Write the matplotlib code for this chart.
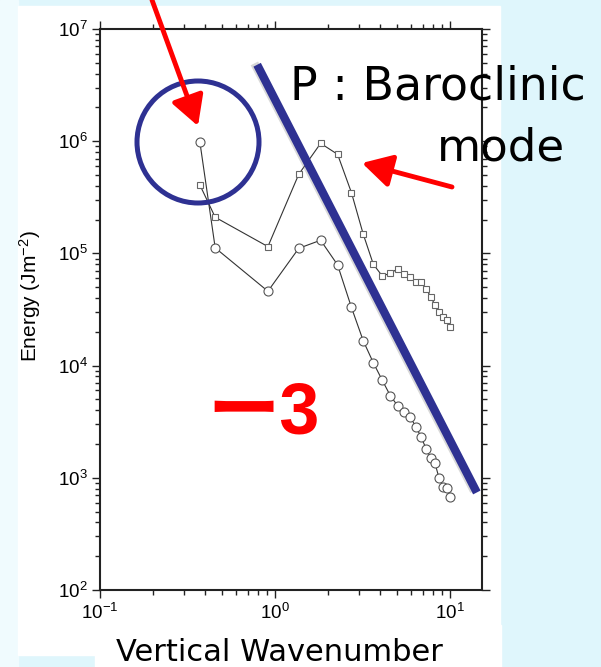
import matplotlib.pyplot as plt
import matplotlib.patches as mpatches
import matplotlib.patheffects as pe
from matplotlib.ticker import LogLocator

# Vertical wavenumber of each point (same for both curves)
wavenumber = [0.372, 0.455, 0.91, 1.365, 1.82, 2.275, 2.73, 3.185, 3.64, 4.095, 4.55, 5.005,
              5.46, 5.915, 6.37, 6.825, 7.28, 7.735, 8.19, 8.645, 9.1, 9.555, 10.01]

# Circles: total energy
energy_total = [9.8e5, 1.12e5, 4.6e4, 1.11e5, 1.31e5, 7.9e4, 3.3e4, 1.67e4, 1.06e4, 7.4e3, 5.4e3,
                4.4e3, 3.86e3, 3.48e3, 2.85e3, 2.31e3, 1.82e3, 1.5e3, 1.35e3, 990, 834, 805, 675]

# Squares: P (baroclinic mode)
energy_p = [4.07e5, 2.1e5, 1.15e5, 5.07e5, 9.57e5, 7.64e5, 3.48e5, 1.49e5, 8.0e4, 6.29e4, 6.65e4,
            7.27e4, 6.55e4, 6.1e4, 5.56e4, 5.52e4, 4.86e4, 4.11e4, 3.47e4, 3.0e4, 2.69e4, 2.55e4, 2.21e4]

# -3 slope guide line (end points)
slope_k = [0.79, 14.2]
slope_e = [4.8e6, 7.4e2]

W, H = 601, 667
BLUE = '#2e3192'


def fxy(x, y):
    # pixel position -> figure fraction
    return (x / W, 1 - y / H)


plt.rcParams['font.family'] = ['Liberation Sans', 'DejaVu Sans']
plt.rcParams['mathtext.default'] = 'regular'

fig = plt.figure(figsize=(W / 100, H / 100), dpi=100, facecolor='#dff6fc')

# slide background pieces
fig.add_artist(mpatches.Rectangle((0, 0), 18 / W, 1, transform=fig.transFigure,
                                  color='#f0fbfe', zorder=-2))
fig.add_artist(mpatches.Rectangle(fxy(18, 655), 482 / W, 649 / H, transform=fig.transFigure,
                                  color='white', zorder=-1))
fig.add_artist(mpatches.Rectangle(fxy(95, 667), 406 / W, 42 / H, transform=fig.transFigure,
                                  color='white', zorder=-1))

ax = fig.add_axes([100 / W, 1 - 590 / H, 382 / W, 561 / H])
ax.set_facecolor('white')
ax.set_xscale('log')
ax.set_yscale('log')

ax.plot(wavenumber, energy_total, '-', color='#333333', lw=0.8, marker='o', ms=6.5,
        mfc='white', mec='#555555', mew=0.8, zorder=3)
ax.plot(wavenumber, energy_p, '-', color='#333333', lw=0.8, marker='s', ms=4.5,
        mfc='white', mec='#666666', mew=0.8, zorder=3)

ax.plot(slope_k, slope_e, color=BLUE, lw=6, solid_capstyle='butt', clip_on=False, zorder=5,
        path_effects=[pe.SimpleLineShadow(offset=(-2, 1), shadow_color='gray', alpha=0.3),
                      pe.Normal()])

ax.set_xlim(0.1, 15.2)
ax.set_ylim(1e2, 1e7)
ax.xaxis.set_minor_locator(LogLocator(subs=range(2, 10), numticks=20))
ax.yaxis.set_minor_locator(LogLocator(subs=range(2, 10), numticks=20))
ax.tick_params(which='both', direction='out', top=True, right=True, labelsize=13.5,
               width=1.0, color='#222222', pad=3)
ax.tick_params(which='major', length=6)
ax.tick_params(which='minor', length=3.5)
for sp in ax.spines.values():
    sp.set_linewidth(1.5)
    sp.set_color('#222222')

ax.set_ylabel('Energy (Jm$^{-2}$)', fontsize=15)
ax.yaxis.set_label_coords(-0.148, 0.524)
ax.set_xlabel('Vertical Wavenumber', fontsize=22, family='DejaVu Sans')
ax.xaxis.set_label_coords(0.471, -0.086)

# annotations on the slide
fig.add_artist(mpatches.Ellipse(fxy(198, 142), 122 / W, 122 / H, transform=fig.transFigure,
                                fill=False, ec=BLUE, lw=3.6, zorder=6))
arrow_style = '-|>,head_length=0.9,head_width=0.5'
fig.add_artist(mpatches.FancyArrowPatch(fxy(152, 0), fxy(198, 126), transform=fig.transFigure,
                                        arrowstyle=arrow_style, mutation_scale=20, lw=3.5,
                                        color='red', shrinkA=0, shrinkB=0, zorder=7))
fig.add_artist(mpatches.FancyArrowPatch(fxy(452, 187), fxy(362, 163), transform=fig.transFigure,
                                        arrowstyle=arrow_style, mutation_scale=20, lw=3.5,
                                        color='red', shrinkA=0, shrinkB=0, zorder=7))

fig.text(*fxy(290, 100), 'P : Baroclinic', fontsize=33, family='DejaVu Sans',
         ha='left', va='baseline', zorder=8)
fig.text(*fxy(437, 160), 'mode', fontsize=32.5, family='DejaVu Sans',
         ha='left', va='baseline', zorder=8)
fig.text(*fxy(207, 433), 'ー3', fontsize=52, fontweight='bold', color='red',
         family=['Liberation Sans', 'Noto Sans CJK JP'], ha='left', va='baseline', zorder=8)

fig.savefig('out.png', dpi=100, facecolor=fig.get_facecolor())
